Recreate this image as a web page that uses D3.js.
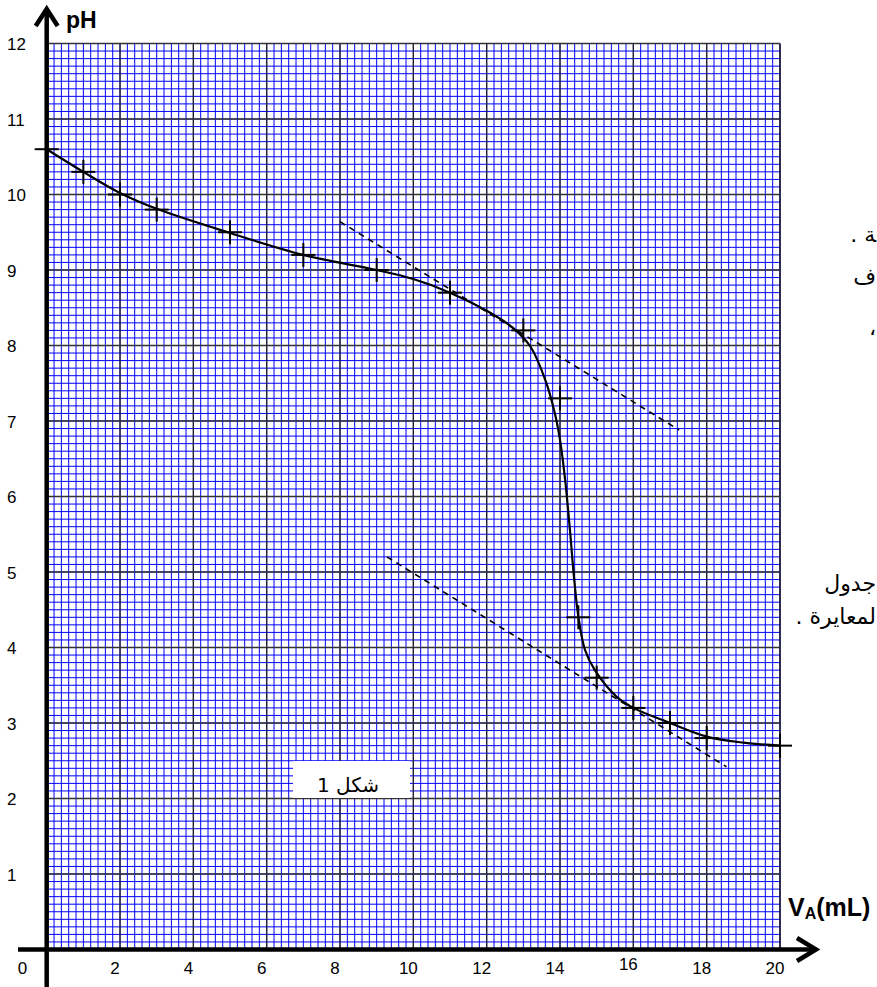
<!DOCTYPE html>
<html>
<head>
<meta charset="UTF-8">
<title>pH</title>
<style>
body { margin: 0; background: #fff; }
text { font-family: "Liberation Sans", Arial, sans-serif; fill: #000; }
.ar { font-family: "DejaVu Sans", sans-serif; }
</style>
</head>
<body>
<svg width="877" height="987"></svg>
<script src="https://d3js.org/d3.v7.min.js"></script>
<script>
// measured points (crosses)
var volumes = [0, 1, 2, 3, 5, 7, 9, 11, 13, 14, 14.5, 15, 16, 17, 18, 20];
var phValues = [10.6, 10.3, 10.0, 9.8, 9.5, 9.2, 9.0, 8.7, 8.2, 7.3, 4.4, 3.6, 3.2, 3.0, 2.8, 2.7];

// drawn curve
var curveV = [0, 1, 2, 3, 5, 7, 9, 10, 11, 12, 12.7, 13.2, 13.6, 13.86, 14.0, 14.14, 14.27, 14.38, 14.5, 14.68, 14.95, 15.54, 16, 17, 18, 19, 20];
var curvePH = [10.6, 10.3, 10.02, 9.81, 9.49, 9.2, 9.0, 8.88, 8.7, 8.46, 8.24, 7.98, 7.54, 7.1, 6.75, 6.22, 5.56, 4.94, 4.41, 3.97, 3.7, 3.35, 3.2, 3.0, 2.82, 2.74, 2.7];

// the two parallel tangents
var tangentUp = [[8.0, 9.64], [17.25, 6.88]];
var tangentDown = [[9.28, 5.2], [18.54, 2.42]];

var xTicks = [2, 4, 6, 8, 10, 12, 14, 16, 18, 20];
var yTicks = [1, 2, 3, 4, 5, 6, 7, 8, 9, 10, 11, 12];

var svg = d3.select("svg");

var x = d3.scaleLinear().domain([0, 20]).range([46.7, 780]);
var y = d3.scaleLinear().domain([0, 12]).range([949.5, 43.5]);

// graph paper
var grid = svg.append("g");
grid.selectAll(".vminor").data(d3.range(0, 101)).enter().append("line")
  .attr("x1", function(d) { return x(d * 0.2); })
  .attr("x2", function(d) { return x(d * 0.2); })
  .attr("y1", y(12)).attr("y2", y(0))
  .attr("stroke", "#0000ff").attr("stroke-width", 1);
grid.selectAll(".hminor").data(d3.range(0, 121)).enter().append("line")
  .attr("y1", function(d) { return y(d * 0.1); })
  .attr("y2", function(d) { return y(d * 0.1); })
  .attr("x1", x(0)).attr("x2", x(20))
  .attr("stroke", "#0000ff").attr("stroke-width", 1);
grid.selectAll(".vmajor").data(d3.range(0, 11)).enter().append("line")
  .attr("x1", function(d) { return x(d * 2); })
  .attr("x2", function(d) { return x(d * 2); })
  .attr("y1", y(12)).attr("y2", y(0))
  .attr("stroke", function(d) { return d == 10 ? "#000" : "#222"; })
  .attr("stroke-width", 1.3);
grid.selectAll(".hmajor").data(d3.range(0, 13)).enter().append("line")
  .attr("y1", function(d) { return y(d); })
  .attr("y2", function(d) { return y(d); })
  .attr("x1", x(0)).attr("x2", x(20))
  .attr("stroke", "#333").attr("stroke-width", 1.3);

// figure label box
svg.append("rect")
  .attr("x", 293).attr("y", 761)
  .attr("width", 117).attr("height", y(2) - 761 - 0.5)
  .attr("fill", "#fff");
svg.append("text").attr("class", "ar")
  .attr("x", 348).attr("y", 792)
  .attr("text-anchor", "middle")
  .style("direction", "rtl")
  .style("font-size", "20px")
  .text("شكل 1");

// tangents
var line = d3.line().x(function(d) { return x(d[0]); }).y(function(d) { return y(d[1]); });
[tangentUp, tangentDown].forEach(function(t) {
  svg.append("path").attr("d", line(t))
    .attr("fill", "none").attr("stroke", "#000")
    .attr("stroke-width", 1.6).attr("stroke-dasharray", "6,5");
});

// titration curve
var curvePts = curveV.map(function(v, i) { return [v, curvePH[i]]; });
svg.append("path")
  .attr("d", d3.line()
    .x(function(d) { return x(d[0]); })
    .y(function(d) { return y(d[1]); })
    .curve(d3.curveCatmullRom.alpha(0.5))(curvePts))
  .attr("fill", "none").attr("stroke", "#000").attr("stroke-width", 2.2);

// crosses
var pts = volumes.map(function(v, i) { return [v, phValues[i]]; });
var cross = svg.selectAll(".cross").data(pts).enter().append("g");
cross.append("line")
  .attr("x1", function(d) { return x(d[0]) - 12; })
  .attr("x2", function(d) { return x(d[0]) + 12; })
  .attr("y1", function(d) { return y(d[1]); })
  .attr("y2", function(d) { return y(d[1]); })
  .attr("stroke", "#000").attr("stroke-width", 2);
cross.append("line")
  .attr("x1", function(d) { return x(d[0]); })
  .attr("x2", function(d) { return x(d[0]); })
  .attr("y1", function(d) { return y(d[1]) - 12; })
  .attr("y2", function(d) { return y(d[1]) + 12; })
  .attr("stroke", "#000").attr("stroke-width", 2);

// axes with arrows
svg.append("line")
  .attr("x1", x(0)).attr("x2", x(0))
  .attr("y1", 987).attr("y2", 10)
  .attr("stroke", "#000").attr("stroke-width", 4.5);
svg.append("polyline")
  .attr("points", [[x(0) - 11, 26], [x(0), 9], [x(0) + 11, 26]].join(" "))
  .attr("fill", "none").attr("stroke", "#000").attr("stroke-width", 4.5);
svg.append("line")
  .attr("x1", 18).attr("x2", 816)
  .attr("y1", y(0)).attr("y2", y(0))
  .attr("stroke", "#000").attr("stroke-width", 4.5);
svg.append("polyline")
  .attr("points", [[797, y(0) - 11.5], [816, y(0)], [797, y(0) + 11.5]].join(" "))
  .attr("fill", "none").attr("stroke", "#000").attr("stroke-width", 4.5);

// tick labels
svg.selectAll(".ytl").data(yTicks).enter().append("text")
  .attr("x", 7).attr("y", function(d) { return y(d) + 6.5; })
  .style("font-size", "17px")
  .text(function(d) { return d; });
svg.selectAll(".xtl").data(xTicks).enter().append("text")
  .attr("x", function(d) { return x(d) - 5; })
  .attr("y", function(d) { return d == 16 ? 970 : 974; })
  .attr("text-anchor", "middle")
  .style("font-size", "17px")
  .text(function(d) { return d; });
svg.append("text").attr("x", 22.5).attr("y", 974)
  .attr("text-anchor", "middle").style("font-size", "17px").text("0");

// axis titles
svg.append("text").attr("x", 66).attr("y", 28)
  .style("font-size", "23px").style("font-weight", "bold").text("pH");
var vt = svg.append("text").attr("x", 788).attr("y", 916)
  .style("font-size", "25px").style("font-weight", "bold");
vt.append("tspan").text("V");
vt.append("tspan").attr("dy", 3).style("font-size", "16px").text("A");
vt.append("tspan").attr("dy", -3).text("(mL)");

// fragments of the page text beside the figure
var side = [
  { t: "\u200Dة .", x: 876, y: 242 },
  { t: "ف", x: 876, y: 284 },
  { t: "،", x: 876, y: 335 },
  { t: "جدول", x: 876, y: 591 },
  { t: "لمعايرة .", x: 876, y: 624 }
];
svg.selectAll(".side").data(side).enter().append("text")
  .attr("class", "ar")
  .attr("x", function(d) { return d.x; })
  .attr("y", function(d) { return d.y; })
  .attr("text-anchor", "start")
  .style("direction", "rtl")
  .style("font-size", "22px")
  .text(function(d) { return d.t; });
</script>
</body>
</html>
